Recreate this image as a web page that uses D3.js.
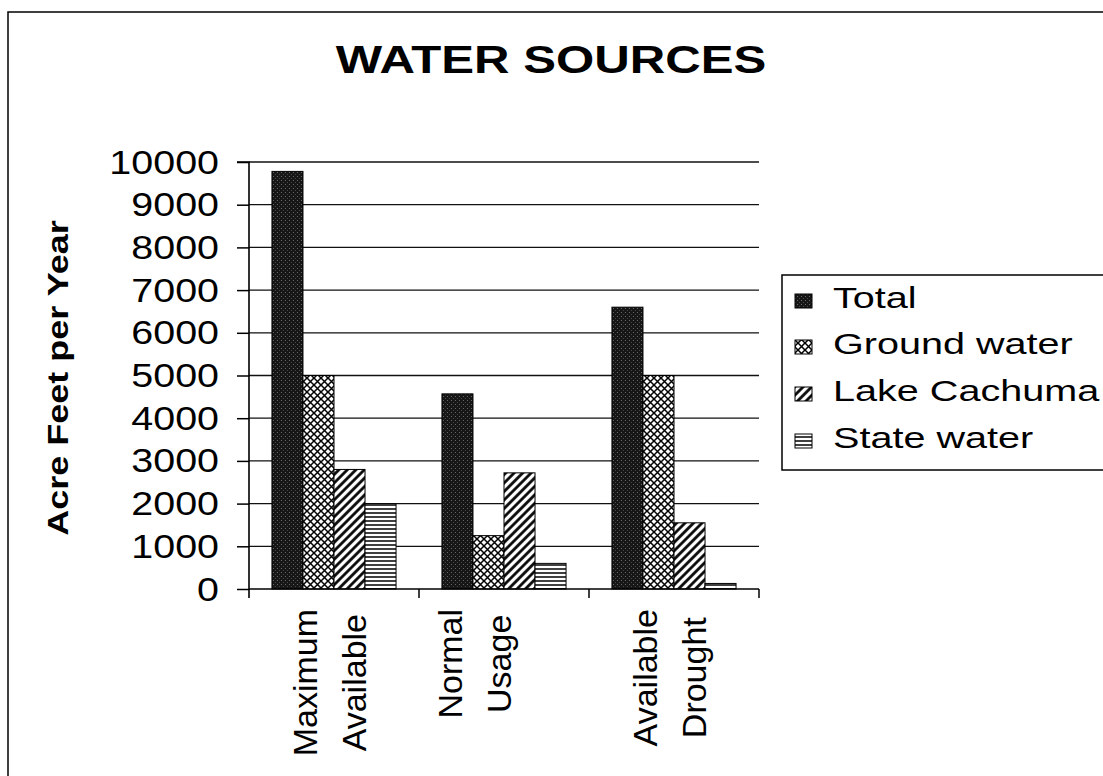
<!DOCTYPE html>
<html>
<head>
<meta charset="utf-8">
<script src="https://cdn.jsdelivr.net/npm/d3@7"></script>
<style>
  html, body { margin: 0; padding: 0; background: #fff; }
  svg { display: block; font-family: "Liberation Sans", Arial, sans-serif; }
</style>
</head>
<body>
<svg id="chart" width="1103" height="776"></svg>
<script>
// ---- Data ----
const categories = ["Maximum Available", "Normal Usage", "Available Drought"];
const categoryLines = [["Maximum", "Available"], ["Normal", "Usage", ""], ["Available", "Drought"]];
const seriesNames = ["Total", "Ground water", "Lake Cachuma", "State water"];
const totalValues = [9780, 4570, 6600];
const groundValues = [5000, 1250, 5000];
const lakeValues = [2800, 2720, 1550];
const stateValues = [2000, 600, 130];
const yTicks = [0, 1000, 2000, 3000, 4000, 5000, 6000, 7000, 8000, 9000, 10000];
const titleText = "WATER SOURCES";
const yTitle = "Acre Feet per Year";

const seriesValues = [totalValues, groundValues, lakeValues, stateValues];
const patternIds = ["pTotal", "pGround", "pLake", "pState"];

const svg = d3.select("#chart");
const defs = svg.append("defs");

// Patterns
const pT = defs.append("pattern").attr("id", "pTotal").attr("patternUnits", "userSpaceOnUse")
  .attr("width", 4).attr("height", 4);
pT.append("rect").attr("width", 4).attr("height", 4).attr("fill", "#161616");
pT.append("rect").attr("x", 1).attr("y", 0).attr("width", 1).attr("height", 1).attr("fill", "#6a6a6a");
pT.append("rect").attr("x", 3).attr("y", 2).attr("width", 1).attr("height", 1).attr("fill", "#4a4a4a");

const pG = defs.append("pattern").attr("id", "pGround").attr("patternUnits", "userSpaceOnUse")
  .attr("width", 7).attr("height", 7);
pG.append("rect").attr("width", 7).attr("height", 7).attr("fill", "#fff");
pG.append("path").attr("d", "M-1,-1 L8,8 M8,-1 L-1,8").attr("stroke", "#000").attr("stroke-width", 1.5);

const pL = defs.append("pattern").attr("id", "pLake").attr("patternUnits", "userSpaceOnUse")
  .attr("width", 6).attr("height", 6).attr("patternTransform", "rotate(45)");
pL.append("rect").attr("width", 6).attr("height", 6).attr("fill", "#fff");
pL.append("line").attr("x1", 1.5).attr("x2", 1.5).attr("y1", 0).attr("y2", 6)
  .attr("stroke", "#000").attr("stroke-width", 2.7);

const pS = defs.append("pattern").attr("id", "pState").attr("patternUnits", "userSpaceOnUse")
  .attr("width", 8).attr("height", 4);
pS.append("rect").attr("width", 8).attr("height", 4).attr("fill", "#fff");
pS.append("line").attr("x1", 0).attr("x2", 8).attr("y1", 1).attr("y2", 1)
  .attr("stroke", "#000").attr("stroke-width", 1.5);

// Outer frame
svg.append("rect").attr("x", 8).attr("y", 12).attr("width", 1300).attr("height", 1000)
  .attr("fill", "none").attr("stroke", "#000").attr("stroke-width", 1.5);

// Scales
const x0 = 249, x1 = 759, yBase = 589, yTop = 162;
const x = d3.scaleBand().domain(categories).range([x0, x1]).paddingInner(0.27).paddingOuter(0.135);
const xs = d3.scaleBand().domain(seriesNames).range([0, x.bandwidth()]).padding(0);
const y = d3.scaleLinear().domain([0, 10000]).range([yBase, yTop]);

// Gridlines
svg.append("g").selectAll("line").data(yTicks.filter(d => d > 0)).join("line")
  .attr("x1", x0).attr("x2", x1)
  .attr("y1", d => y(d)).attr("y2", d => y(d))
  .attr("stroke", "#111").attr("stroke-width", 1.3);

// Bars
const groups = svg.append("g").selectAll("g").data(categories).join("g")
  .attr("transform", d => `translate(${x(d)},0)`);
groups.each(function (cat, ci) {
  d3.select(this).selectAll("rect").data(seriesNames).join("rect")
    .attr("x", s => xs(s))
    .attr("width", xs.bandwidth())
    .attr("y", (s, si) => y(seriesValues[si][ci]))
    .attr("height", (s, si) => yBase - y(seriesValues[si][ci]))
    .attr("fill", (s, si) => `url(#${patternIds[si]})`)
    .attr("stroke", "#000").attr("stroke-width", 1);
});

// Y axis
const yAxis = d3.axisLeft(y).tickValues(yTicks).tickSize(12).tickFormat("");
const gy = svg.append("g").attr("transform", `translate(${x0},0)`).call(yAxis);
gy.select(".domain").attr("stroke", "#000").attr("stroke-width", 1.6).attr("d", `M-12,${yTop}H0V${yBase + 9}`);
gy.selectAll(".tick line").attr("stroke", "#000").attr("stroke-width", 1.5);

// Y tick labels
svg.append("g").selectAll("text").data(yTicks).join("text")
  .attr("transform", d => `translate(219,${y(d)}) scale(1.16,1)`)
  .attr("text-anchor", "end").attr("dominant-baseline", "central")
  .attr("font-size", 34).attr("fill", "#000")
  .text(d => d);

// X axis
const xAxisLine = svg.append("g");
xAxisLine.append("line").attr("x1", x0).attr("x2", x1).attr("y1", yBase).attr("y2", yBase)
  .attr("stroke", "#000").attr("stroke-width", 1.6);
const boundaries = categories.map(c => x(c) + x.bandwidth() + x.step() * x.paddingInner() / 2);
xAxisLine.selectAll("line.tk").data(boundaries).join("line").attr("class", "tk")
  .attr("x1", d => d).attr("x2", d => d).attr("y1", yBase).attr("y2", yBase + 9)
  .attr("stroke", "#000").attr("stroke-width", 1.5);

// Category labels (rotated, multi-line)
const lineGap = 49;
categories.forEach((cat, ci) => {
  const lines = categoryLines[ci];
  const cx = x(cat) + x.bandwidth() / 2 + 7;
  const g = svg.append("g");
  const texts = lines.map((ln, li) => {
    const bx = cx + (li - (lines.length - 1) / 2) * lineGap;
    return g.append("text").attr("font-size", 34).attr("fill", "#000")
      .attr("text-anchor", "middle").text(ln).datum(bx);
  });
  const maxLen = d3.max(texts, t => t.node().getComputedTextLength());
  const cy = 609 + maxLen / 2;
  texts.forEach(t => t.attr("transform", `translate(${t.datum()},${cy}) rotate(-90)`));
});

// Y axis title
svg.append("text")
  .attr("transform", "translate(68,378) rotate(-90) scale(1.2,1)")
  .attr("text-anchor", "middle").attr("font-size", 30).attr("font-weight", "bold")
  .text(yTitle);

// Title
svg.append("text")
  .attr("transform", "translate(551,73) scale(1.26,1)")
  .attr("text-anchor", "middle").attr("font-size", 39).attr("font-weight", "bold")
  .text(titleText);

// Legend
const legend = svg.append("g");
legend.append("rect").attr("x", 782).attr("y", 275).attr("width", 400).attr("height", 195)
  .attr("fill", "#fff").attr("stroke", "#000").attr("stroke-width", 1.5);
const legBase = [308, 354, 401, 448];
seriesNames.forEach((s, i) => {
  legend.append("rect").attr("x", 795).attr("y", legBase[i] - 14).attr("width", 17).attr("height", 14)
    .attr("fill", `url(#${patternIds[i]})`).attr("stroke", "#000").attr("stroke-width", 1);
  legend.append("text").attr("transform", `translate(833,${legBase[i]}) scale(1.32,1)`)
    .attr("font-size", 30).attr("fill", "#000").text(s);
});
</script>
</body>
</html>
